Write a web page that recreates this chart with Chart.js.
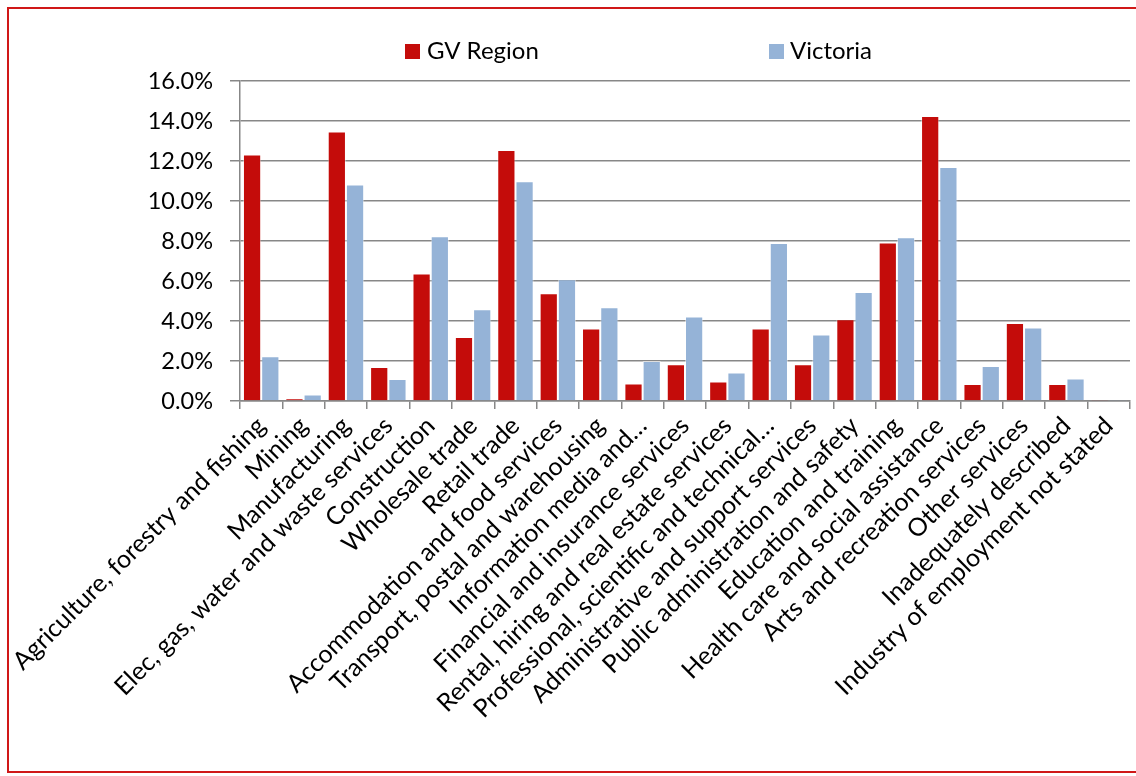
<!DOCTYPE html>
<html>
<head>
<meta charset="utf-8">
<script src="https://cdn.jsdelivr.net/npm/chart.js@4.4.1/dist/chart.umd.min.js"></script>
<style>
  html, body { margin: 0; padding: 0; background: #fff; overflow: hidden; }
  #frame { position: absolute; left: 7px; top: 7px; width: 1140px; height: 766px; border: 2px solid #d01818; box-sizing: border-box; }
  #wrap { position: absolute; left: 0; top: 0; width: 1136px; height: 776px; }
</style>
</head>
<body>
<div id="frame"></div>
<div id="wrap"><canvas id="c"></canvas></div>
<script>
const categories = [
  "Agriculture, forestry and fishing",
  "Mining",
  "Manufacturing",
  "Elec, gas, water and waste services",
  "Construction",
  "Wholesale trade",
  "Retail trade",
  "Accommodation and food services",
  "Transport, postal and warehousing",
  "Information media and…",
  "Financial and insurance services",
  "Rental, hiring and real estate services",
  "Professional, scientific and technical…",
  "Administrative and support services",
  "Public administration and safety",
  "Education and training",
  "Health care and social assistance",
  "Arts and recreation services",
  "Other services",
  "Inadequately described",
  "Industry of employment not stated"
];
const gvRegion = [12.32, 0.13, 13.47, 1.70, 6.37, 3.20, 12.55, 5.39, 3.62, 0.87, 1.84, 0.97, 3.62, 1.84, 4.09, 7.92, 14.25, 0.85, 3.90, 0.85, 0.06];
const victoria = [2.24, 0.32, 10.82, 1.10, 8.24, 4.59, 10.99, 6.09, 4.69, 2.00, 4.22, 1.42, 7.90, 3.32, 5.45, 8.19, 11.70, 1.75, 3.67, 1.13, 0.07];
const seriesNames = ["GV Region", "Victoria"];
const yTicks = [0, 2, 4, 6, 8, 10, 12, 14, 16];

const RED = "#c40c0a";
const BLUE = "#95b3d7";
const GRID = "#878787";
const FONT = "Lato, 'Open Sans', sans-serif";

const legendPlugin = {
  id: "customLegend",
  afterDraw(chart) {
    const ctx = chart.ctx;
    const pos = [{ box: 405, text: 427 }, { box: 769, text: 790 }];
    ctx.save();
    ctx.font = "24px " + FONT;
    ctx.textBaseline = "middle";
    ctx.textAlign = "left";
    chart.data.datasets.forEach((ds, i) => {
      ctx.fillStyle = ds.backgroundColor;
      ctx.fillRect(pos[i].box, 44, 15, 15);
      ctx.fillStyle = "#000";
      ctx.fillText(ds.label, pos[i].text, 51);
    });
    ctx.restore();
  }
};

new Chart(document.getElementById("c"), {
  type: "bar",
  data: {
    labels: categories,
    datasets: [
      { label: seriesNames[0], data: gvRegion, backgroundColor: RED, borderColor: "rgba(255,255,255,0.45)", borderWidth: 1, categoryPercentage: 0.86, barPercentage: 1.0 },
      { label: seriesNames[1], data: victoria, backgroundColor: BLUE, borderColor: "rgba(255,255,255,0.45)", borderWidth: 1, categoryPercentage: 0.86, barPercentage: 1.0 }
    ]
  },
  options: {
    responsive: true,
    maintainAspectRatio: false,
    animation: false,
    layout: { padding: { top: 81, left: 0, right: 6, bottom: 0 } },
    plugins: { legend: { display: false }, tooltip: { enabled: false } },
    scales: {
      x: {
        afterFit(scale) { scale.height = 375; },
        grid: { drawOnChartArea: false, drawTicks: true, tickLength: 8, color: GRID, lineWidth: 1.5, offset: true },
        border: { color: GRID, width: 1.5 },
        ticks: { color: "#000", font: { family: FONT, size: 25 }, minRotation: 45, maxRotation: 45, autoSkip: false, padding: 2 }
      },
      y: {
        min: 0, max: 16,
        afterFit(scale) { scale.width = 240; },
        afterBuildTicks(scale) { scale.ticks = yTicks.map(v => ({ value: v })); },
        grid: { color: GRID, lineWidth: 1.5, drawTicks: true, tickLength: 10 },
        border: { color: GRID, width: 1.5 },
        ticks: { color: "#000", font: { family: FONT, size: 23.5 }, padding: 17, callback: v => v.toFixed(1) + "%" }
      }
    }
  },
  plugins: [legendPlugin]
});
</script>
</body>
</html>
